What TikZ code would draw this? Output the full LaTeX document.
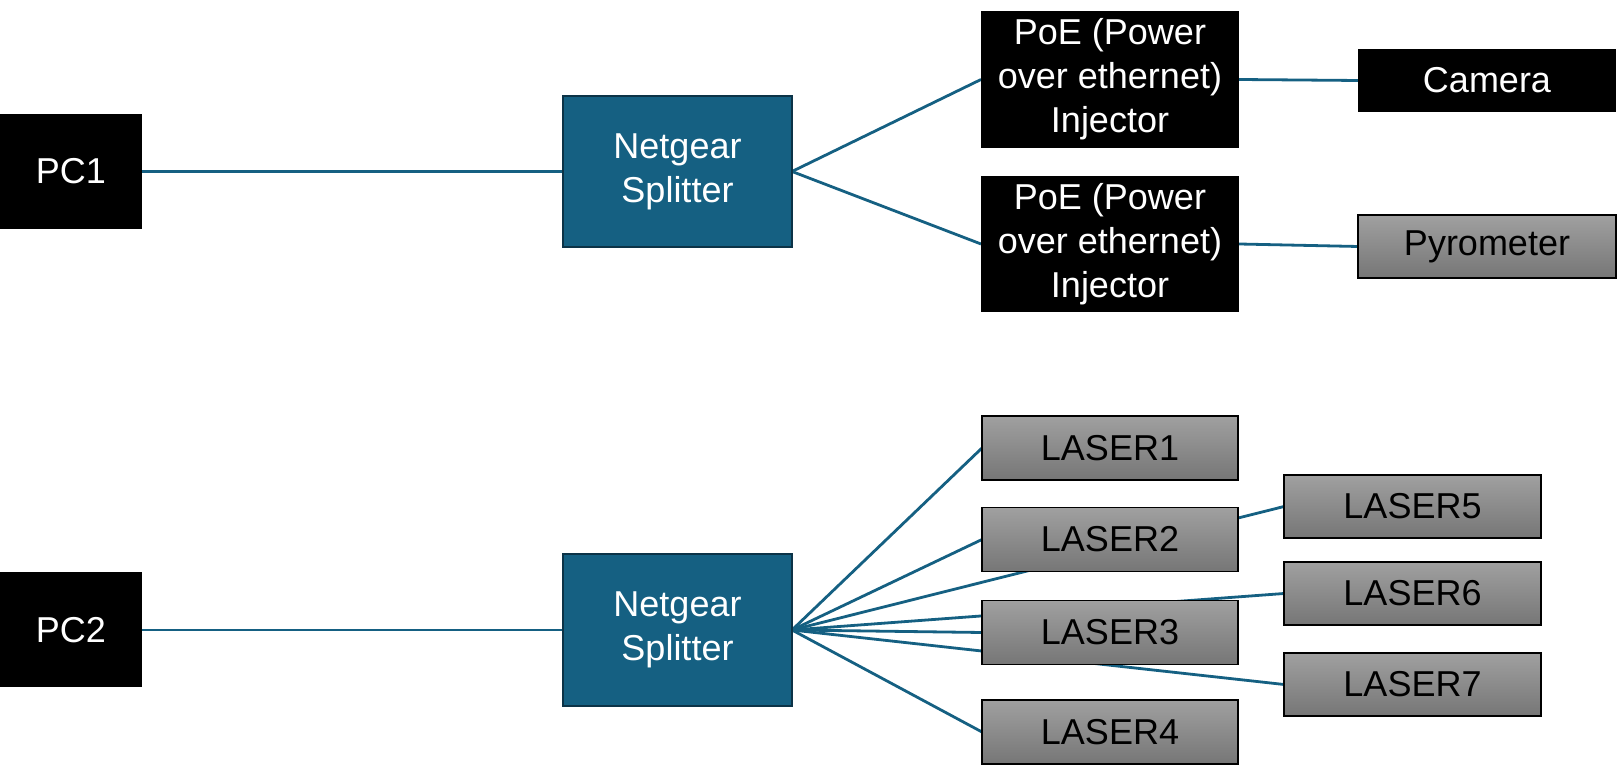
\documentclass[tikz,border=0pt]{standalone}
\usepackage{fontspec}
\setmainfont{Liberation Sans}
\usetikzlibrary{backgrounds}
\definecolor{accent}{HTML}{156082}
\definecolor{accentdark}{HTML}{0C3347}
\definecolor{graytop}{RGB}{160,160,160}
\definecolor{graybot}{RGB}{118,118,118}
\begin{document}
\begin{tikzpicture}[x=0.5pt,y=-0.5pt,
  base/.style={rectangle,inner sep=0pt,outer sep=0pt,align=center,font=\fontsize{18}{22}\selectfont},
  blackbox/.style={base,fill=black,text=white},
  splitbox/.style={base,fill=accent,draw=accentdark,line width=1.2pt,text=white},
  graybox/.style={base,top color=graytop,bottom color=graybot,draw=black,line width=0.9pt,text=black},
  link/.style={draw=accent,line width=1.4pt}]
\useasboundingbox (0,0) rectangle (1618,779);
\node[blackbox,minimum width=71pt,minimum height=57.5pt] (pc1) at (71,171.5) {PC1};
\node[blackbox,minimum width=71pt,minimum height=57.5pt] (pc2) at (71,630) {PC2};
\node[splitbox,minimum width=114.5pt,minimum height=75.5pt] (s1) at (677.5,171.5) {Netgear\\Splitter};
\node[splitbox,minimum width=114.5pt,minimum height=76pt] (s2) at (677.5,630) {Netgear\\Splitter};
\node[blackbox,minimum width=129pt,minimum height=68.5pt] (poe1) at (1110,79.5) {PoE (Power\\over ethernet)\\Injector};
\node[blackbox,minimum width=129pt,minimum height=68pt] (poe2) at (1110,244) {PoE (Power\\over ethernet)\\Injector};
\node[blackbox,minimum width=129pt,minimum height=31.5pt] (cam) at (1487,80.5) {Camera};
\node[graybox,minimum width=129pt,minimum height=31.5pt] (pyro) at (1487,246.5) {Pyrometer};
\node[graybox,minimum width=128pt,minimum height=32pt] (l1) at (1110,448) {LASER1};
\node[graybox,minimum width=128pt,minimum height=32pt] (l2) at (1110,539.5) {LASER2};
\node[graybox,minimum width=128pt,minimum height=32pt] (l3) at (1110,632.5) {LASER3};
\node[graybox,minimum width=128pt,minimum height=32pt] (l4) at (1110,732) {LASER4};
\node[graybox,minimum width=128.5pt,minimum height=31.5pt] (l5) at (1412.5,506.5) {LASER5};
\node[graybox,minimum width=128.5pt,minimum height=31.5pt] (l6) at (1412.5,593.5) {LASER6};
\node[graybox,minimum width=128.5pt,minimum height=31.5pt] (l7) at (1412.5,684.5) {LASER7};
\begin{scope}[on background layer]
\draw[link] (pc1.east) -- (s1.west);
\draw[link] (pc2.east) -- (s2.west);
\draw[link] (s1.east) -- (poe1.west);
\draw[link] (s1.east) -- (poe2.west);
\draw[link] (poe1.east) -- (cam.west);
\draw[link] (poe2.east) -- (pyro.west);
\draw[link] (s2.east) -- (l1.west);
\draw[link] (s2.east) -- (l2.west);
\draw[link] (s2.east) -- (l5.west);
\draw[link] (s2.east) -- (l3.west);
\draw[link] (s2.east) -- (l6.west);
\draw[link] (s2.east) -- (l7.west);
\draw[link] (s2.east) -- (l4.west);
\end{scope}
\end{tikzpicture}
\end{document}
